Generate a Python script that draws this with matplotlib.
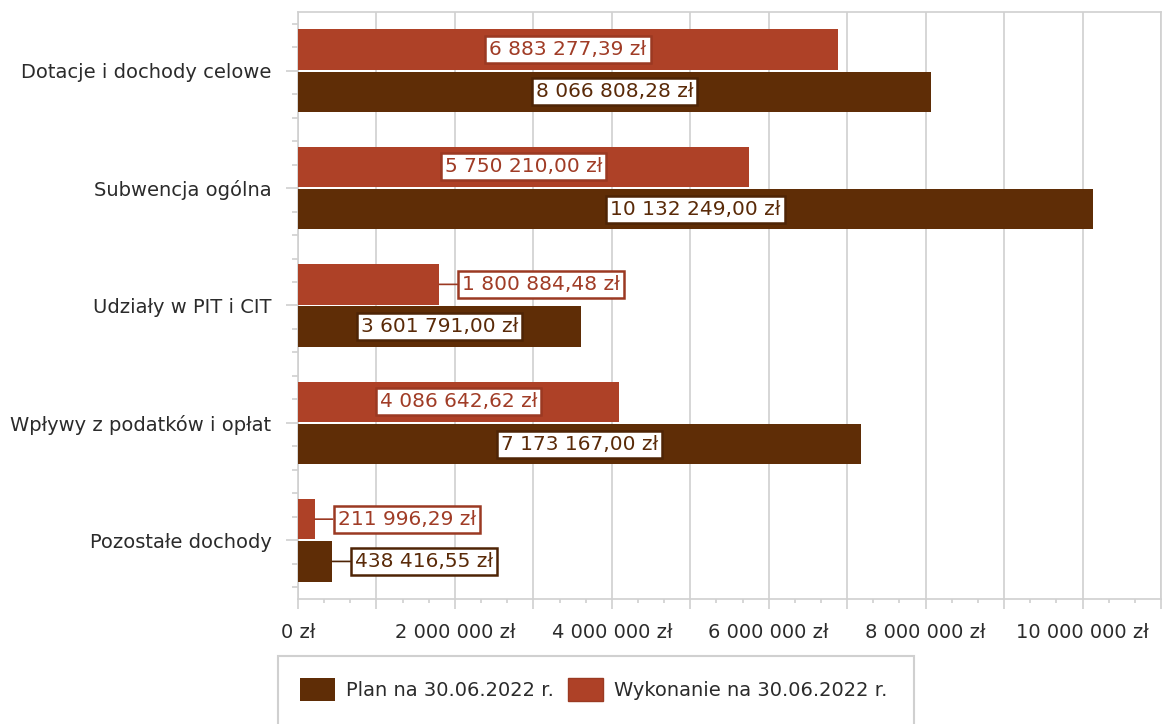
import numpy as np
import matplotlib
matplotlib.use("Agg")
import matplotlib.pyplot as plt
from matplotlib.ticker import MultipleLocator, FuncFormatter
from matplotlib.patches import Patch, Rectangle

categories = ["Dotacje i dochody celowe", "Subwencja ogólna", "Udziały w PIT i CIT",
              "Wpływy z podatków i opłat", "Pozostałe dochody"]
plan = [8066808.28, 10132249.00, 3601791.00, 7173167.00, 438416.55]
wykonanie = [6883277.39, 5750210.00, 1800884.48, 4086642.62, 211996.29]
series_names = ["Plan na 30.06.2022 r.", "Wykonanie na 30.06.2022 r."]

PLAN_COLOR = "#5f2d06"
WYK_COLOR = "#ae4127"
PLAN_TEXT = "#5a2a08"
WYK_TEXT = "#a03c26"
PLAN_EDGE = "#4e2405"
WYK_EDGE = "#9b3922"
GRID = "#d0d0d0"
TEXT = "#2b2b2b"
FS = 14
LABEL_FS = 14.5

plt.rcParams["font.family"] = ["DejaVu Sans"]


def pl_money(v, decimals=2):
    s = f"{v:,.{decimals}f}"
    return s.replace(",", " ").replace(".", ",") + " zł"


W, H = 1163, 724
fig = plt.figure(figsize=(W / 100, H / 100), dpi=100)
ax = fig.add_axes([298 / W, 1 - 599 / H, (1161 - 298) / W, (599 - 12) / H])

y = np.arange(len(categories))
h = 0.345
off = 0.18
bars_w = ax.barh(y - off, wykonanie, height=h, color=WYK_COLOR, zorder=3)
bars_p = ax.barh(y + off, plan, height=h, color=PLAN_COLOR, zorder=3)

ax.set_xlim(0, 11_000_000)
ax.set_ylim(len(categories) - 0.5, -0.5)

# axes styling
for s in ax.spines.values():
    s.set_color(GRID)
    s.set_linewidth(1.2)
ax.xaxis.set_major_locator(MultipleLocator(1_000_000))
ax.xaxis.set_minor_locator(MultipleLocator(1_000_000 / 3))
ax.xaxis.set_major_formatter(FuncFormatter(
    lambda v, p: pl_money(v, 0) if round(v) % 2_000_000 == 0 else ""))
ax.set_yticks(y)
ax.set_yticklabels(categories)
ax.yaxis.set_minor_locator(MultipleLocator(0.2))
ax.tick_params(axis="x", which="major", length=7.5, width=1.2, color=GRID,
               labelsize=FS, labelcolor=TEXT, pad=9.5)
ax.tick_params(axis="x", which="minor", length=3, width=1.2, color=GRID)
ax.tick_params(axis="y", which="major", length=8.6, width=1.2, color=GRID,
               labelsize=FS, labelcolor=TEXT, pad=10.5)
ax.tick_params(axis="y", which="minor", length=4.3, width=1.2, color=GRID)
ax.grid(axis="x", which="major", color=GRID, linewidth=1.2, zorder=0)
ax.set_axisbelow(True)

# value labels: centred inside the bar, or beside it with a leader line
fig.canvas.draw()
renderer = fig.canvas.get_renderer()
x0 = ax.transData.transform((0, 0))[0]


def label_bar(rect, value, tcolor, ecolor):
    w = rect.get_width()
    yc = rect.get_y() + rect.get_height() / 2
    box = dict(boxstyle="square,pad=0.2", fc="white", ec=ecolor, lw=1.8)
    t = ax.text(w / 2, yc, pl_money(value), ha="center", va="center",
                fontsize=LABEL_FS, color=tcolor, bbox=box, zorder=5)
    tw = t.get_window_extent(renderer).width
    bar_px = ax.transData.transform((w, 0))[0] - x0
    if tw + 20 > bar_px:
        t.remove()
        ax.annotate(pl_money(value), xy=(w, yc), xytext=(16.5, 0),
                    textcoords="offset points", ha="left", va="center",
                    fontsize=LABEL_FS, color=tcolor, bbox=box, zorder=5,
                    arrowprops=dict(arrowstyle="-", color=ecolor, lw=1.2,
                                    shrinkA=0, shrinkB=0))


for r, v in zip(bars_w, wykonanie):
    label_bar(r, v, WYK_TEXT, WYK_EDGE)
for r, v in zip(bars_p, plan):
    label_bar(r, v, PLAN_TEXT, PLAN_EDGE)

# legend; its frame runs past the lower edge of the figure
handles = [Patch(facecolor=PLAN_COLOR, label=series_names[0]),
           Patch(facecolor=WYK_COLOR, edgecolor="#9a3a22", label=series_names[1])]
leg = fig.legend(handles=handles, ncol=2, loc="upper left",
                 bbox_to_anchor=(278 / W, 1 - 656 / H), borderaxespad=0,
                 frameon=False, fontsize=FS,
                 borderpad=1.13, handlelength=1.8, handleheight=1.44,
                 handletextpad=0.57, columnspacing=0.72, labelcolor=TEXT)
fig.add_artist(Rectangle((278 / W, -0.02), (914 - 278) / W, 0.02 + (724 - 656) / H,
                         transform=fig.transFigure, fill=False, edgecolor=GRID,
                         linewidth=1.5, clip_on=False))

fig.savefig("out.png", dpi=100)
